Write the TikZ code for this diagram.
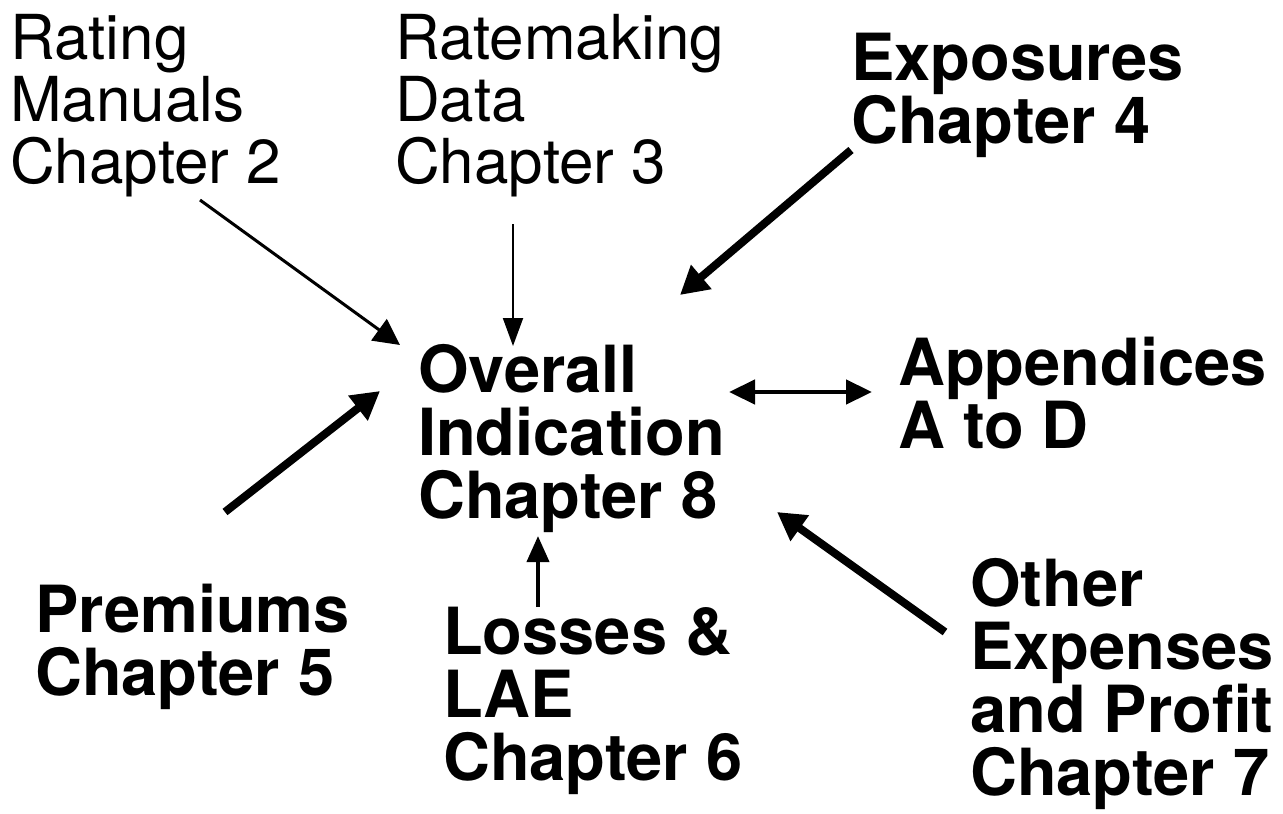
\documentclass[tikz,border=0pt]{standalone}
\usepackage{fontspec}
\setmainfont{TeX Gyre Heros}
\usetikzlibrary{arrows.meta}
\begin{document}
\begin{tikzpicture}[x=1pt,y=-1pt,
  reg/.style={anchor=base west,inner sep=0pt,align=left,font=\fontsize{62}{62}\selectfont},
  bld/.style={anchor=base west,inner sep=0pt,align=left,font=\fontsize{65}{63}\selectfont\bfseries},
  thin/.style={line width=3pt,-{Triangle[length=26pt,width=26pt]}},
  thick/.style={line width=8pt,-{Triangle[length=28pt,width=30pt]}},
  mid/.style={line width=4.5pt,{Triangle[length=26pt,width=24pt]}-{Triangle[length=26pt,width=24pt]}},
  up/.style={line width=4pt,-{Triangle[length=26pt,width=22pt]}}]
\useasboundingbox (0,0) rectangle (1283,814);
\node[reg] (rm) at (10,183) {Rating\\Manuals\\Chapter 2};
\node[reg] (rd) at (395,183) {Ratemaking\\Data\\Chapter 3};
\node[bld] (ex) at (851,143) {Exposures\\Chapter 4};
\node[bld] (oi) at (418,518) {Overall\\Indication\\Chapter 8};
\node[bld] (ap) at (898,448) {Appendices\\A to D};
\node[bld] (pr) at (35,695) {Premiums\\Chapter 5};
\node[bld] (lo) at (443,780) {Losses \&\\LAE\\Chapter 6};
\node[bld] (ot) at (970,795) {Other\\Expenses\\and Profit\\Chapter 7};
\coordinate (a1s) at (200,200); \coordinate (a1e) at (400,345);
\coordinate (a2s) at (513,224); \coordinate (a2e) at (513,346);
\coordinate (a3s) at (851,150); \coordinate (a3e) at (680,295);
\coordinate (a4s) at (225,512); \coordinate (a4e) at (380,391);
\coordinate (a5s) at (729,392); \coordinate (a5e) at (872,392);
\coordinate (a6s) at (538,607); \coordinate (a6e) at (538,536);
\coordinate (a7s) at (945,632); \coordinate (a7e) at (777,512);
\draw[thin] (a1s) -- (a1e);
\draw[line width=2pt,-{Triangle[length=28pt,width=20pt]}] (a2s) -- (a2e);
\draw[thick] (a3s) -- (a3e);
\draw[thick] (a4s) -- (a4e);
\draw[mid] (a5s) -- (a5e);
\draw[up] (a6s) -- (a6e);
\draw[thick] (a7s) -- (a7e);
\end{tikzpicture}
\end{document}
